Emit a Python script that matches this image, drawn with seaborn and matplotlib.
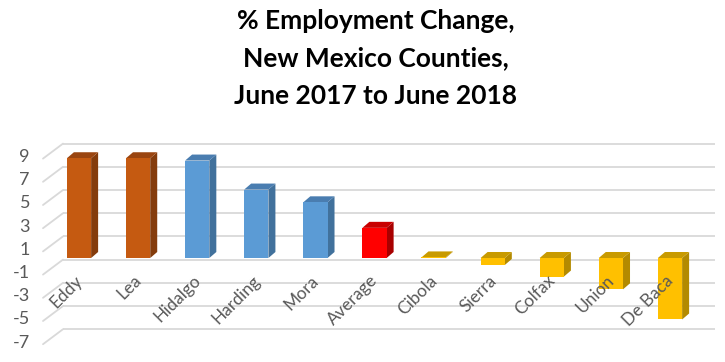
import numpy as np
import pandas as pd
import matplotlib
matplotlib.use("Agg")
import matplotlib.pyplot as plt
import seaborn as sns
from matplotlib.patches import Polygon

# ---------------- data ----------------
categories = ["Eddy", "Lea", "Hidalgo", "Harding", "Mora", "Average",
              "Cibola", "Sierra", "Colfax", "Union", "De Baca"]
values = [8.6, 8.6, 8.4, 5.9, 4.8, 2.6, 0.05, -0.6, -1.6, -2.7, -5.3]
groups = ["top", "top", "high", "high", "high", "avg",
          "low", "low", "low", "low", "low"]
y_ticks = [9, 7, 5, 3, 1, -1, -3, -5, -7]
title_lines = ["% Employment Change,", "New Mexico Counties,", "June 2017 to June 2018"]

front_colors = {"top": "#C55A11", "high": "#5B9BD5", "avg": "#FF0000", "low": "#FFC000"}
top_colors = {"top": "#9A4510", "high": "#4A7DB0", "avg": "#C80000", "low": "#C89A00"}
side_colors = {"top": "#843C0C", "high": "#41719C", "avg": "#A80000", "low": "#B38A00"}

# ---------------- layout (pixels) ----------------
W, H = 725, 362
X0_PX, X_STEP = 79.0, 59.1      # first category centre, spacing
Y0_PX, Y_STEP = 258.0, 11.6     # zero line (from top), px per unit
BAR_W = 0.41
DEPTH = (7.0, 6.0)              # bar depth offset (right, up)
BACK = (13.0, 10.0)             # back wall offset from bar front plane
LABEL = (-7.0, -5.0)            # front floor edge offset
WALL_L, WALL_R = 63.0, 715.0    # back wall extent
GRID_C = "#D9D9D9"
TXT_C = "#595959"

sns.set_theme(style="white")
plt.rcParams["font.family"] = ["Lato", "DejaVu Sans"]

fig = plt.figure(figsize=(W / 100, H / 100), dpi=100)
ax = fig.add_axes([0, 0, 1, 1])

df = pd.DataFrame({"county": categories, "value": values, "group": groups})
sns.barplot(data=df, x="county", y="value", hue="county",
            palette=[front_colors[g] for g in groups], width=BAR_W,
            saturation=1, legend=False, linewidth=0, ax=ax, zorder=4)

ax.set_xlim(-X0_PX / X_STEP, (W - X0_PX) / X_STEP)
ax.set_ylim(-(H - Y0_PX) / Y_STEP, Y0_PX / Y_STEP)
ax.axis("off")

px_x = 1.0 / X_STEP   # data units per pixel
px_y = 1.0 / Y_STEP


def xpx(p):
    return (p - X0_PX) / X_STEP


# back wall gridlines + side-wall diagonals + tick labels
for v in y_ticks:
    yb = v + BACK[1] * px_y
    ax.plot([xpx(WALL_L), xpx(WALL_R)], [yb, yb], color=GRID_C, lw=1.3,
            zorder=1, solid_capstyle="butt")
    xf = xpx(WALL_L) - (BACK[0] - LABEL[0]) * px_x
    yf = v + LABEL[1] * px_y
    ax.plot([xf, xpx(WALL_L)], [yf, yb], color=GRID_C, lw=1.3, zorder=1)
    ax.text(xpx(30), yf + 1.5 * px_y, str(v), ha="right", va="center",
            fontsize=13, color=TXT_C)

# 3-D faces for each bar
for patch, g in zip(ax.patches, groups):
    x0 = patch.get_x()
    x1 = x0 + patch.get_width()
    ya, yb_ = patch.get_y(), patch.get_y() + patch.get_height()
    ylo, yhi = min(ya, yb_), max(ya, yb_)
    dx, dy = DEPTH[0] * px_x, DEPTH[1] * px_y
    side = Polygon([(x1, ylo), (x1, yhi), (x1 + dx, yhi + dy), (x1 + dx, ylo + dy)],
                   closed=True, facecolor=side_colors[g], edgecolor="none", zorder=3)
    top = Polygon([(x0, yhi), (x1, yhi), (x1 + dx, yhi + dy), (x0 + dx, yhi + dy)],
                  closed=True, facecolor=top_colors[g], edgecolor="none", zorder=3)
    ax.add_patch(side)
    ax.add_patch(top)

# category labels
for i, name in enumerate(categories):
    ax.text(i + 1 * px_x, -20 * px_y, name, rotation=45, rotation_mode="anchor",
            ha="right", va="center", fontsize=12.5, color=TXT_C, zorder=10)

# title
for k, line in enumerate(title_lines):
    fig.text(376 / W, 1 - (21 + 37.5 * k) / H, line, ha="center", va="center",
             fontsize=19, fontweight="bold", color="black")

fig.savefig("out.png", dpi=100, facecolor="white")
